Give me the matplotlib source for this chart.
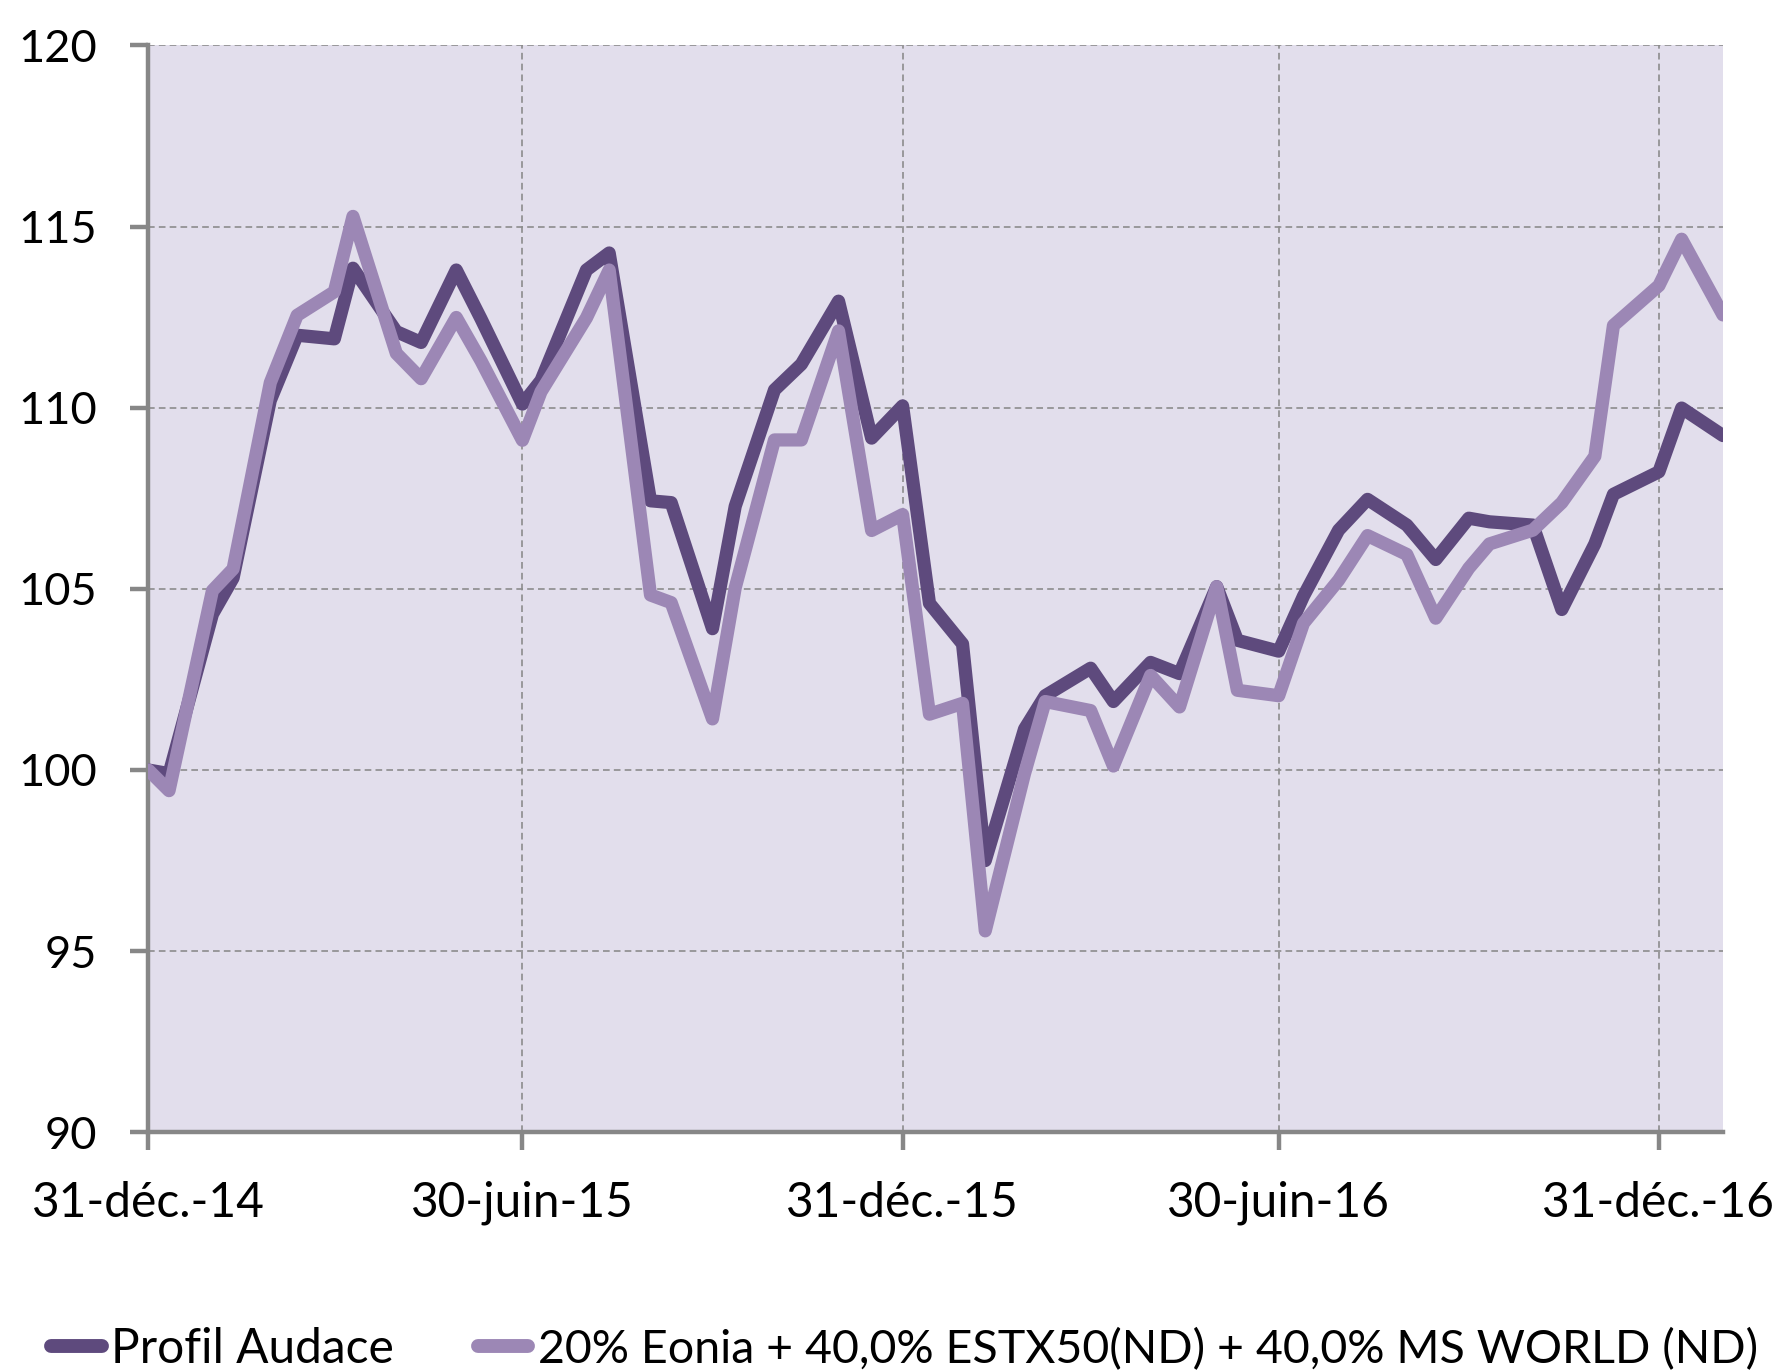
import pandas as pd
import matplotlib
matplotlib.use("Agg")
import matplotlib.pyplot as plt

# dates of the points
dates = [
    "2014-12-31", "2015-01-10", "2015-01-31", "2015-02-10", "2015-02-28",
    "2015-03-13", "2015-03-31", "2015-04-09", "2015-04-30", "2015-05-12",
    "2015-05-29", "2015-06-10", "2015-06-30", "2015-07-09", "2015-07-31",
    "2015-08-11", "2015-08-31", "2015-09-10", "2015-09-30", "2015-10-11",
    "2015-10-30", "2015-11-12", "2015-11-30", "2015-12-16", "2015-12-31",
    "2016-01-13", "2016-01-29", "2016-02-09", "2016-02-28", "2016-03-09",
    "2016-03-31", "2016-04-11", "2016-04-29", "2016-05-13", "2016-05-31",
    "2016-06-10", "2016-06-30", "2016-07-12", "2016-07-29", "2016-08-12",
    "2016-08-31", "2016-09-14", "2016-09-30", "2016-10-10", "2016-10-31",
    "2016-11-14", "2016-11-30", "2016-12-09", "2016-12-31", "2017-01-11",
    "2017-01-31",
]

profil_audace = [
    100.0, 99.9, 104.3, 105.3, 110.2, 112.0, 111.9, 113.85, 112.1, 111.8,
    113.8, 112.45, 110.1, 110.75, 113.8, 114.27, 107.43, 107.38, 103.9, 107.28,
    110.49, 111.2, 112.94, 109.16, 110.05, 104.6, 103.48, 97.5, 101.13, 102.05,
    102.81, 101.89, 102.97, 102.66, 105.06, 103.58, 103.28, 104.8, 106.62, 107.47,
    106.76, 105.81, 106.95, 106.85, 106.76, 104.43, 106.24, 107.61, 108.23, 109.99,
    109.23,
]

benchmark = [
    100.0, 99.43, 104.95, 105.55, 110.69, 112.55, 113.2, 115.28, 111.5, 110.8,
    112.49, 111.29, 109.1, 110.44, 112.48, 113.8, 104.83, 104.62, 101.41, 105.03,
    109.11, 109.11, 112.12, 106.61, 107.05, 101.54, 101.84, 95.56, 99.9, 101.89,
    101.64, 100.11, 102.61, 101.74, 105.06, 102.2, 102.05, 104.05, 105.24, 106.47,
    105.95, 104.19, 105.57, 106.24, 106.62, 107.38, 108.66, 112.27, 113.37, 114.65,
    112.56,
]

tick_dates = ["2014-12-31", "2015-06-30", "2015-12-31", "2016-06-30", "2016-12-31"]
tick_labels = ["31-déc.-14", "30-juin-15", "31-déc.-15", "30-juin-16", "31-déc.-16"]
y_ticks = [90, 95, 100, 105, 110, 115, 120]

series_names = ["Profil Audace", "20% Eonia + 40,0% ESTX50(ND) + 40,0% MS WORLD (ND)"]

x = pd.to_datetime(dates)

plt.rcParams['font.family'] = ['Lato', 'DejaVu Sans']

dark = "#5e4a7d"
light = "#9c87b5"
grey = "#878787"

fig = plt.figure(figsize=(17.79, 13.71), dpi=100)
ax = fig.add_axes([0.0834, 0.1741, 0.8851, 0.7928])
ax.set_facecolor("#e2deec")

ax.plot(x, profil_audace, color=dark, lw=9.5, solid_joinstyle='round',
        solid_capstyle='round', label=series_names[0], zorder=3)
ax.plot(x, benchmark, color=light, lw=9.5, solid_joinstyle='round',
        solid_capstyle='round', label=series_names[1], zorder=4)

ax.set_xlim(pd.Timestamp("2014-12-31"), pd.Timestamp("2017-01-31"))
ax.set_ylim(90, 120)
ax.set_xticks(pd.to_datetime(tick_dates))
ax.set_xticklabels(tick_labels)
ax.set_yticks(y_ticks)

ax.grid(True, color="#8c8c8c", linestyle=(0, (4, 2.5)), linewidth=1.2)
ax.set_axisbelow(True)

for side in ["top", "right"]:
    ax.spines[side].set_visible(False)
for side in ["left", "bottom"]:
    ax.spines[side].set_color(grey)
    ax.spines[side].set_linewidth(3.2)

ax.tick_params(axis='both', colors=grey, width=3.2, length=13,
               labelcolor="black")
ax.tick_params(axis='y', pad=24, labelsize=32.5)
ax.tick_params(axis='x', pad=22, labelsize=34.5)

leg = fig.legend(loc='center left', bbox_to_anchor=(0.018, 0.016), ncol=2,
                 frameon=False, fontsize=34.5, handlelength=1.05,
                 handletextpad=0.2, columnspacing=1.75, borderaxespad=0)
for h in leg.get_lines():
    h.set_linewidth(10)
    h.set_solid_capstyle('round')
# the long benchmark label is a little narrower in the original
leg.get_texts()[1].set_fontsize(33.5)

fig.savefig("out.png", dpi=100)
